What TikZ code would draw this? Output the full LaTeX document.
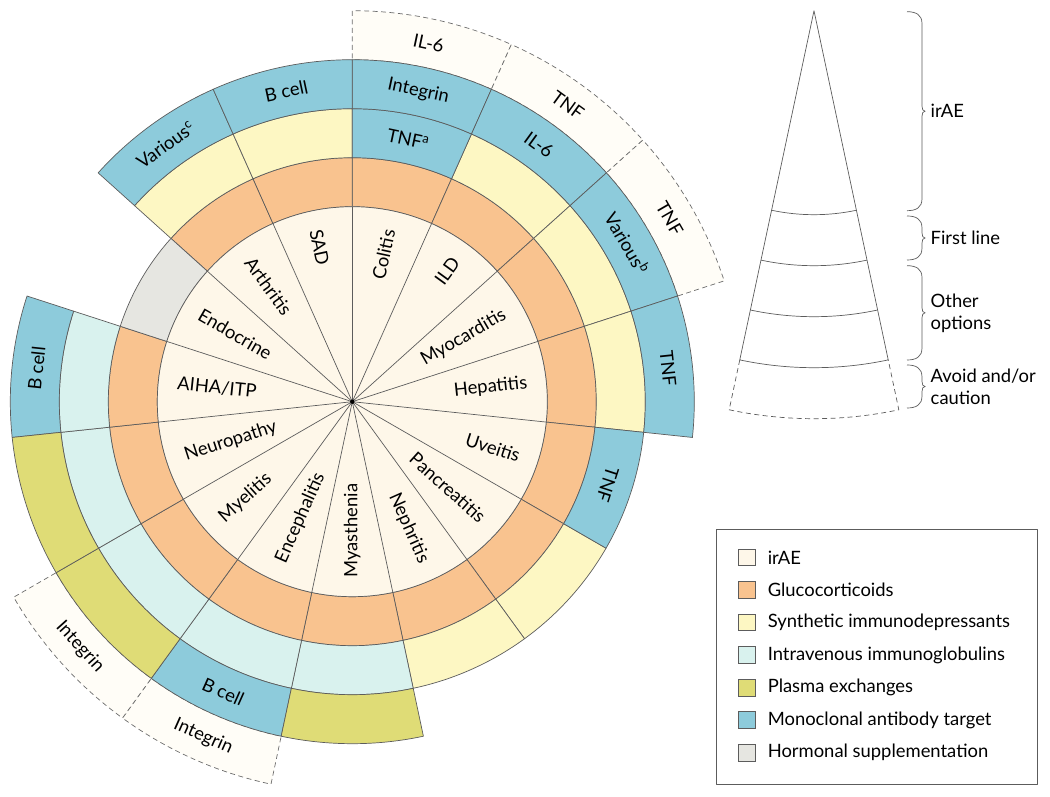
\documentclass[tikz,border=0pt]{standalone}
\usepackage{fontspec}
\setmainfont{Lato}
\usetikzlibrary{positioning}

\definecolor{irae}{HTML}{FEF7E9}
\definecolor{gluco}{HTML}{F9C38F}
\definecolor{synth}{HTML}{FDF7C3}
\definecolor{ivig}{HTML}{D9F2EE}
\definecolor{plasma}{HTML}{DFDC76}
\definecolor{mab}{HTML}{8DCBDB}
\definecolor{hormone}{HTML}{E6E6E1}
\definecolor{avoidfill}{HTML}{FFFDF7}
\definecolor{linegray}{HTML}{5C5C5C}

\newcommand{\wheelfont}{\fontsize{18.4}{22}\selectfont}

% annular sector: style, start angle, end angle, inner radius, outer radius
\newcommand{\ringcell}[5]{%
  \draw[#1] (#2:#4) arc[start angle=#2, end angle=#3, radius=#4]
    -- (#3:#5) arc[start angle=#3, end angle=#2, radius=#5] -- cycle;}

% curly brace: x, top, bottom, name of its tip
\newcommand{\sidebrace}[4]{%
  \pgfmathsetmacro\bym{(#2+#3)/2}
  \draw[braceline] (#1,#2) .. controls (#1+9,#2) and (#1+15,#2-3) .. (#1+15,#2-12)
    -- (#1+15,\bym+5) .. controls (#1+15,\bym+2) and (#1+16,\bym) .. (#1+18,\bym)
    coordinate (#4)
    .. controls (#1+16,\bym) and (#1+15,\bym-2) .. (#1+15,\bym-5)
    -- (#1+15,#3+12) .. controls (#1+15,#3+3) and (#1+9,#3) .. (#1,#3);}

\tikzset{
  cell/.style={draw=linegray, line width=0.7pt, line join=round},
  avoid/.style={draw=linegray!90, line width=0.7pt, fill=avoidfill,
    dash pattern=on 5pt off 3.5pt},
  inlab/.style={font=\wheelfont, inner sep=0pt},
  ringlab/.style={font=\wheelfont, inner sep=0pt},
  braceline/.style={draw=linegray, line width=0.7pt},
  bracelab/.style={font=\wheelfont, inner sep=0pt, align=left, anchor=west},
  swatch/.style={draw=linegray, line width=0.6pt, minimum size=16.7pt, inner sep=0pt},
  legtext/.style={font=\wheelfont, inner sep=0pt, anchor=west}
}

\begin{document}
\begin{tikzpicture}[x=1pt,y=1pt]
  \useasboundingbox (-352.3,-395.3) rectangle (697.7,401.7);

  % outer ring: drugs to avoid
  \foreach \a/\b in {66/90,42/66,18/42,-126/-102,-150/-126}
    \ringcell{avoid}{\a}{\b}{342}{391};

  % first line: glucocorticoids
  \foreach \a/\b in {66/90,42/66,18/42,-6/18,-30/-6,-54/-30,-78/-54,-102/-78,
      -126/-102,-150/-126,-174/-150,162/186,114/138,90/114}
    \ringcell{cell,fill=gluco}{\a}{\b}{195}{244};
  \ringcell{cell,fill=hormone}{138}{162}{195}{244};

  % other options, inner ring
  \foreach \a/\b in {42/66,18/42,-6/18,-54/-30,-78/-54,114/138,90/114}
    \ringcell{cell,fill=synth}{\a}{\b}{244}{293};
  \foreach \a/\b in {-102/-78,-126/-102,-150/-126,-174/-150,162/186}
    \ringcell{cell,fill=ivig}{\a}{\b}{244}{293};
  \ringcell{cell,fill=mab}{66}{90}{244}{293};
  \ringcell{cell,fill=mab}{-30}{-6}{244}{293};

  % other options, outer ring
  \foreach \a/\b in {66/90,42/66,18/42,-6/18,-126/-102,162/186,114/138,90/114}
    \ringcell{cell,fill=mab}{\a}{\b}{293}{342};
  \foreach \a/\b in {-102/-78,-150/-126,-174/-150}
    \ringcell{cell,fill=plasma}{\a}{\b}{293}{342};

  % irAE disk
  \draw[cell,fill=irae] (0,0) circle[radius=195];
  \foreach \a in {90,66,...,-246}
    \draw[cell] (0,0) -- (\a:195);
  \fill[black] (0,0) circle[radius=2.2];

  \node[inlab,anchor=east,rotate=78] (colitis) at (78:176) {Colitis};
  \node[inlab,anchor=east,rotate=54] (ild) at (54:176) {ILD};
  \node[inlab,anchor=east,rotate=30] (myocard) at (30:176) {Myocarditis};
  \node[inlab,anchor=east,rotate=6] (hepat) at (6:176) {Hepatitis};
  \node[inlab,anchor=east,rotate=-18] (uveit) at (-18:176) {Uveitis};
  \node[inlab,anchor=east,rotate=-42] (pancr) at (-42:176) {Pancreatitis};
  \node[inlab,anchor=east,rotate=-66] (nephr) at (-66:176) {Nephritis};
  \node[inlab,anchor=west,rotate=90] (myasth) at (-90:176) {Myasthenia};
  \node[inlab,anchor=west,rotate=66] (enceph) at (-114:176) {Encephalitis};
  \node[inlab,anchor=west,rotate=42] (myelit) at (-138:176) {Myelitis};
  \node[inlab,anchor=west,rotate=18] (neurop) at (-162:176) {Neuropathy};
  \node[inlab,anchor=west,rotate=-6] (aiha) at (174:176) {AIHA/ITP};
  \node[inlab,anchor=west,rotate=-30] (endocr) at (150:176) {Endocrine};
  \node[inlab,anchor=west,rotate=-54] (arthr) at (126:176) {Arthritis};
  \node[inlab,anchor=west,rotate=-78] (sad) at (102:176) {SAD};

  % targets in the rings
  \node[ringlab,rotate=-12] (tnfa) at (78:268.5) {TNF\textsuperscript{a}};
  \node[ringlab,rotate=-108] (tnfuv) at (-18:268.5) {TNF};
  \node[ringlab,rotate=-12] (integcol) at (78:317.5) {Integrin};
  \node[ringlab,rotate=-36] (ilild) at (54:317.5) {IL-6};
  \node[ringlab,rotate=-60] (variousb) at (30:317.5) {Various\textsuperscript{b}};
  \node[ringlab,rotate=-84] (tnfhep) at (6:317.5) {TNF};
  \node[ringlab,rotate=-24] (bcellenc) at (-114:317.5) {B cell};
  \node[ringlab,rotate=84] (bcellaiha) at (174:317.5) {B cell};
  \node[ringlab,rotate=36] (variousc) at (126:317.5) {Various\textsuperscript{c}};
  \node[ringlab,rotate=12] (bcellsad) at (102:317.5) {B cell};
  \node[ringlab,rotate=-12] (ilcol) at (78:366.5) {IL-6};
  \node[ringlab,rotate=-36] (tnfild) at (54:366.5) {TNF};
  \node[ringlab,rotate=-60] (tnfmyo) at (30:366.5) {TNF};
  \node[ringlab,rotate=-24] (integenc) at (-114:366.5) {Integrin};
  \node[ringlab,rotate=-48] (integmye) at (-138:366.5) {Integrin};

  % key cone
  \begin{scope}[shift={(461.7,391)}]
    \draw[cell] (0,0) -- (-102:357) arc[start angle=-102, end angle=-78, radius=357] -- cycle;
    \foreach \r in {204,255,306}
      \draw[cell] (-102:\r) arc[start angle=-102, end angle=-78, radius=\r];
    \draw[cell,dash pattern=on 5pt off 3.5pt] (-102:357) -- (-102:408)
      arc[start angle=-102, end angle=-78, radius=408] -- (-78:357);
  \end{scope}

  \sidebrace{554.7}{390}{191}{btip1}
  \sidebrace{554.7}{185.7}{141.7}{btip2}
  \sidebrace{554.7}{136}{41.7}{btip3}
  \sidebrace{554.7}{36.7}{-6.3}{btip4}
  \node[bracelab,right=5.5pt of btip1] (lirae) {irAE};
  \node[bracelab,right=5.5pt of btip2] (lfirst) {First line};
  \node[bracelab,right=5.5pt of btip3] (lother) {Other\\options};
  \node[bracelab,right=5.5pt of btip4] (lavoid) {Avoid and/or\\caution};

  % legend
  \draw[cell,line width=0.6pt] (363.7,-127.6) rectangle (685.4,-382.3);
  \foreach \col/\txt [count=\i] in {irae/irAE, gluco/Glucocorticoids,
      synth/Synthetic immunodepressants, ivig/Intravenous immunoglobulins,
      plasma/Plasma exchanges, mab/Monoclonal antibody target,
      hormone/Hormonal supplementation}{
    \node[swatch,fill=\col] (key\i) at (394.3,{-155.6-32.57*(\i-1)}) {};
    \node[legtext,right=12.3pt of key\i] (keytext\i) {\txt};
  }
\end{tikzpicture}
\end{document}
